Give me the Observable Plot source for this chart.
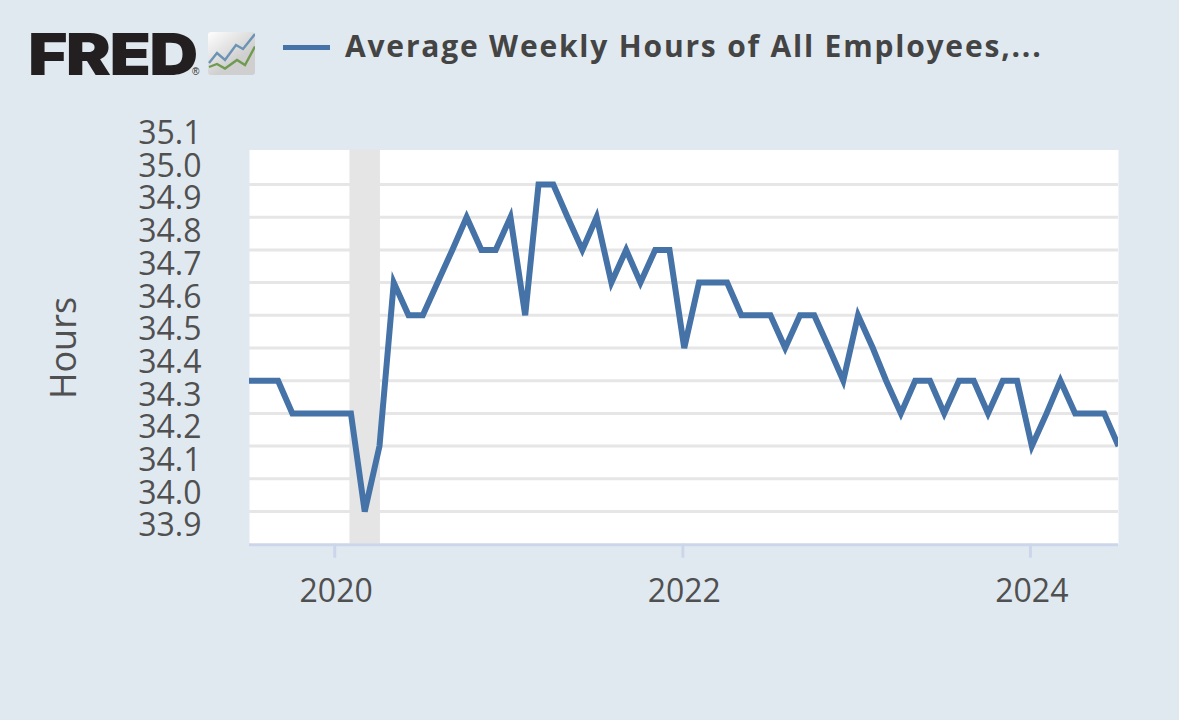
<!DOCTYPE html>
<html>
<head>
<meta charset="utf-8">
<script src="https://cdn.jsdelivr.net/npm/d3@7"></script>
<script src="https://cdn.jsdelivr.net/npm/@observablehq/plot@0.6"></script>
<style>
html,body{margin:0;padding:0;background:#e1e9f0;width:1179px;height:720px;overflow:hidden}
#header{position:relative;height:100px;width:1179px}
#logo{position:absolute;left:28px;top:19px;font:900 58px/70px Inter,"Liberation Sans",sans-serif;color:#231f20;letter-spacing:-1.5px;transform:scaleX(1.17);transform-origin:left top}
#reg{position:absolute;left:192px;top:66px;font:400 10px/11px "Liberation Sans",sans-serif;color:#231f20}
#icon{position:absolute;left:208px;top:32px}
#swatch{position:absolute;left:283px;top:44.5px;width:47px;height:5px;background:#4572a7}
#title{position:absolute;left:345px;top:26px;font:700 30px/40px "Open Sans",sans-serif;color:#444;letter-spacing:1.8px;white-space:nowrap}
</style>
</head>
<body>
<div id="header">
  <div id="logo">FRED</div><div id="reg">®</div>
  <svg id="icon" width="47" height="43" viewBox="0 0 47 43">
    <defs><linearGradient id="g" x1="0" y1="0" x2="0.8" y2="1"><stop offset="0.05" stop-color="#fbfbfb"/><stop offset="0.7" stop-color="#cfcfcf"/></linearGradient></defs>
    <rect width="47" height="43" rx="3" fill="url(#g)"/>
    <path d="M1 31 L9 21 L17 28 L28 13 L35 17 L47 2" fill="none" stroke="#6b93b5" stroke-width="2.4"/>
    <path d="M1 35 L9 32 L17 36.5 L29 28 L37 33 L47 14.5" fill="none" stroke="#6f9a50" stroke-width="2.4"/>
  </svg>
  <div id="swatch"></div>
  <div id="title">Average Weekly Hours of All Employees,...</div>
</div>
<div id="chart"></div>
<script>
const months = [
  "2019-07","2019-08","2019-09","2019-10","2019-11","2019-12",
  "2020-01","2020-02","2020-03","2020-04","2020-05","2020-06","2020-07","2020-08","2020-09","2020-10","2020-11","2020-12",
  "2021-01","2021-02","2021-03","2021-04","2021-05","2021-06","2021-07","2021-08","2021-09","2021-10","2021-11","2021-12",
  "2022-01","2022-02","2022-03","2022-04","2022-05","2022-06","2022-07","2022-08","2022-09","2022-10","2022-11","2022-12",
  "2023-01","2023-02","2023-03","2023-04","2023-05","2023-06","2023-07","2023-08","2023-09","2023-10","2023-11","2023-12",
  "2024-01","2024-02","2024-03","2024-04","2024-05","2024-06","2024-07"
];
const hours = [
  34.4,34.4,34.4,34.3,34.3,34.3,
  34.3,34.3,34.0,34.2,34.7,34.6,34.6,34.7,34.8,34.9,34.8,34.8,
  34.9,34.6,35.0,35.0,34.9,34.8,34.9,34.7,34.8,34.7,34.8,34.8,
  34.5,34.7,34.7,34.7,34.6,34.6,34.6,34.5,34.6,34.6,34.5,34.4,
  34.6,34.5,34.4,34.3,34.4,34.4,34.3,34.4,34.4,34.3,34.4,34.4,
  34.2,34.3,34.4,34.3,34.3,34.3,34.2
];
const yTicks = [33.9,34.0,34.1,34.2,34.3,34.4,34.5,34.6,34.7,34.8,34.9,35.0,35.1];
const gridValues = [34.0,34.1,34.2,34.3,34.4,34.5,34.6,34.7,34.8,34.9,35.0];
const xTicks = ["2020-01-01","2022-01-01","2024-01-01"].map(d => new Date(d));
const recession = [{start:new Date("2020-01-30"), end:new Date("2020-04-03")}];
const series = months.map((m,i) => ({date:new Date(m+"-01"), value:hours[i]}));

const plot = Plot.plot({
  width:1179, height:620,
  marginLeft:249, marginRight:61, marginTop:49.5, marginBottom:176.3,
  style:{fontFamily:"'Open Sans',sans-serif", fontSize:"32px", fontWeight:400, background:"transparent", color:"#505050", overflow:"visible"},
  x:{type:"utc", domain:[new Date("2019-07-03"), new Date("2024-07-01")]},
  y:{domain:[33.9,35.1055]},
  marks:[
    Plot.frame({fill:"#fff", stroke:null}),
    Plot.ruleY(gridValues,{stroke:"#e6e6e6",strokeWidth:3}),
    Plot.rect(recession,{x1:"start",x2:"end",fill:"#e5e5e5"}),
    Plot.ruleY([33.9],{stroke:"#ccd6eb",strokeWidth:3,dy:0.5}),
    Plot.axisX({ticks:xTicks,tickSize:14,stroke:"#ccd6eb",strokeWidth:3,dx:-1.4,fill:"none",label:null}),
    Plot.axisX({ticks:xTicks,tickSize:0,tickPadding:35,tickFormat:d3.utcFormat("%Y"),fill:"#505050",label:null,fontSize:32}),
    Plot.axisY({ticks:yTicks,tickSize:0,tickPadding:48,tickFormat:d3.format(".1f"),dy:-18,fill:"#505050",fontSize:32,label:null}),
    Plot.text(["Hours"],{y:() => 34.5,frameAnchor:"left",textAnchor:"middle",rotate:-90,dx:-185,fontSize:36,fill:"#505050"}),
    Plot.line(series,{x:"date",y:"value",stroke:"#4572a7",strokeWidth:6,strokeLinejoin:"miter",strokeMiterlimit:4,strokeLinecap:"butt",clip:true})
  ]
});
document.getElementById("chart").appendChild(plot);
</script>
</body>
</html>
